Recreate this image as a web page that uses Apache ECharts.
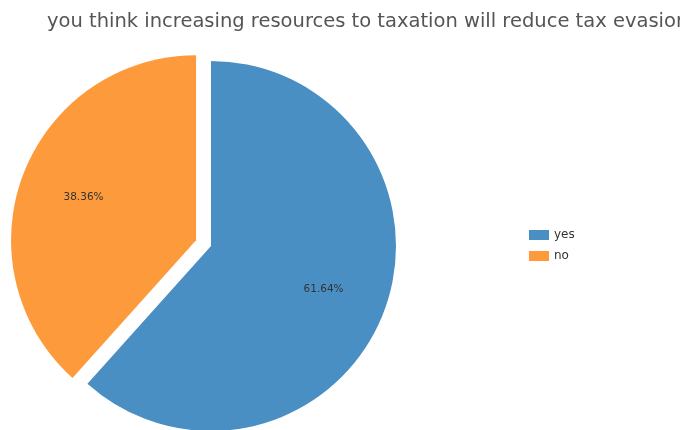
<!DOCTYPE html>
<html><head><meta charset="utf-8">
<script src="https://cdn.jsdelivr.net/npm/echarts@6/dist/echarts.min.js"></script>
<style>html,body{margin:0;padding:0;background:#fff}#c{width:680px;height:430px}</style>
</head><body><div id="c"></div>
<script>
const titleText = 'you think increasing resources to taxation will reduce tax evasion';
const categories = ['yes', 'no'];
const values = [61.64, 38.36];
const colors = ['#4a8fc4', '#fd9a3c'];
const explodedIndex = 1;

const chart = echarts.init(document.getElementById('c'));
const pieData = categories.map((name, i) => ({
  name, value: values[i], selected: i === explodedIndex,
  itemStyle: { color: colors[i] }
}));
const labelData = categories.map((name, i) => ({
  name, value: values[i], selected: i === explodedIndex
}));
chart.setOption({
  animation: false,
  title: {
    text: titleText, left: 42, top: 7,
    textStyle: { fontFamily: 'DejaVu Sans', fontSize: 19.5, fontWeight: 'normal', color: '#555' }
  },
  legend: {
    orient: 'vertical', left: 524, top: 224, itemWidth: 20, itemHeight: 10, itemGap: 9,
    icon: 'rect', data: categories,
    textStyle: { fontFamily: 'DejaVu Sans', fontSize: 12, color: '#333' }
  },
  series: [{
    type: 'pie', center: [211, 246], radius: 185, startAngle: 90, clockwise: true,
    selectedMode: 'single', selectedOffset: 16, silent: true,
    label: { show: false }, labelLine: { show: false },
    emphasis: { disabled: true },
    data: pieData
  }, {
    type: 'pie', center: [211, 246], radius: [50, 185], startAngle: 90, clockwise: true,
    selectedMode: 'single', selectedOffset: 16, silent: true,
    itemStyle: { color: 'rgba(0,0,0,0)' },
    label: { show: true, position: 'inside', formatter: '{d}%', fontFamily: 'DejaVu Sans', fontSize: 10.5, color: '#333' },
    labelLine: { show: false },
    emphasis: { disabled: true },
    data: labelData
  }]
});
</script></body></html>
